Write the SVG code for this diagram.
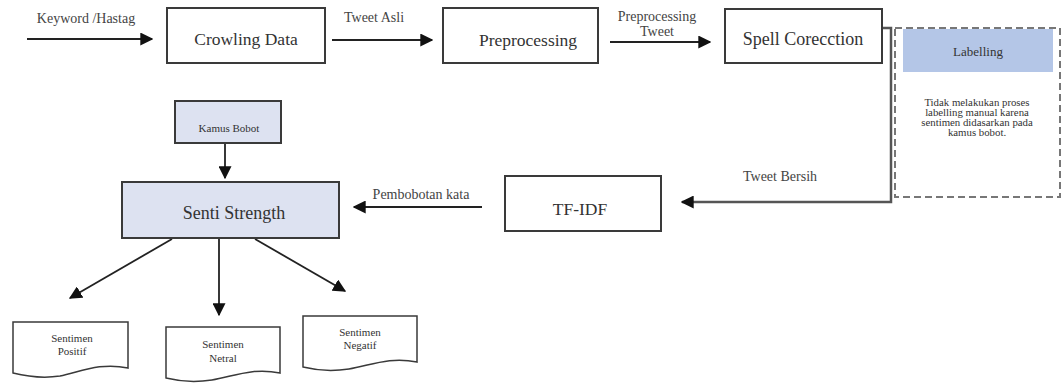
<svg xmlns="http://www.w3.org/2000/svg" width="1062" height="383" viewBox="0 0 1062 383">
<defs>
<marker id="ahb" viewBox="0 0 10 10" refX="9" refY="5" markerWidth="13" markerHeight="13" markerUnits="userSpaceOnUse" orient="auto">
<path d="M0,0 L10,5 L0,10 z" fill="#111"/>
</marker>
</defs>
<style>
.box{fill:#fff;stroke:#3a3a3a;stroke-width:2}
.blue{fill:#dde2f1;stroke:#3a3a3a;stroke-width:2}
.doc{fill:#fff;stroke:#3a3a3a;stroke-width:1.5}
.t{font-family:"Liberation Serif","DejaVu Serif",serif;fill:#333;text-anchor:middle}
.lbl{font-family:"Liberation Serif","DejaVu Serif",serif;fill:#444;font-size:14px;text-anchor:middle}
.ln{stroke:#222;stroke-width:1.8;fill:none}
</style>
<rect width="1062" height="383" fill="#fff"/>
<g id="connectors">
<line class="ln" x1="27" y1="39" x2="152" y2="39" marker-end="url(#ahb)"/>
<text class="lbl" x="86" y="23">Keyword /Hastag</text>
<line class="ln" x1="332" y1="40" x2="432" y2="40" marker-end="url(#ahb)"/>
<text class="lbl" x="374" y="22">Tweet Asli</text>
<line class="ln" x1="610" y1="42" x2="710" y2="42" marker-end="url(#ahb)"/>
<text class="lbl" x="657" y="21">Preprocessing</text>
<text class="lbl" x="657" y="36">Tweet</text>
<path d="M882,28 H891 V202 H682" fill="none" stroke="#555" stroke-width="2.5" marker-end="url(#ahb)"/>
<text class="lbl" x="780" y="181">Tweet Bersih</text>
<line class="ln" x1="482" y1="207" x2="354" y2="207" marker-end="url(#ahb)"/>
<text class="lbl" x="421" y="199">Pembobotan kata</text>
<line class="ln" x1="225" y1="143" x2="225" y2="178" marker-end="url(#ahb)"/>
<line class="ln" x1="172" y1="239" x2="70" y2="298" marker-end="url(#ahb)"/>
<line class="ln" x1="219" y1="239" x2="219" y2="315" marker-end="url(#ahb)"/>
<line class="ln" x1="255" y1="239" x2="345" y2="291" marker-end="url(#ahb)"/>
</g>
<g id="crowling">
<rect class="box" x="167" y="8" width="158" height="55"/>
<text class="t" x="246" y="45" font-size="17.5">Crowling Data</text>
</g>
<g id="preprocessing">
<rect class="box" x="443" y="8" width="155" height="55"/>
<text class="t" x="528" y="46" font-size="17.5">Preprocessing</text>
</g>
<g id="spell">
<rect class="box" x="725" y="9" width="157" height="54"/>
<text class="t" x="803" y="45" font-size="18">Spell Corecction</text>
</g>
<g id="labelling">
<rect x="895" y="28" width="165" height="169" fill="#fff" stroke="#777" stroke-width="2" stroke-dasharray="7,4"/>
<rect x="903" y="29" width="150" height="43" fill="#b4c6e7"/>
<text class="t" x="978" y="56" font-size="13" fill="#222">Labelling</text>
<text class="t" x="977" y="106" font-size="10.8" fill="#222">Tidak melakukan proses</text>
<text class="t" x="977" y="116" font-size="10.8" fill="#222">labelling manual karena</text>
<text class="t" x="977" y="126" font-size="10.8" fill="#222">sentimen didasarkan pada</text>
<text class="t" x="977" y="136" font-size="10.8" fill="#222">kamus bobot.</text>
</g>
<g id="tfidf">
<rect class="box" x="505" y="176" width="156" height="55"/>
<text class="t" x="580" y="215" font-size="17.5">TF-IDF</text>
</g>
<g id="kamus">
<rect class="blue" x="175" y="101" width="106" height="42"/>
<text class="t" x="229" y="132" font-size="11">Kamus Bobot</text>
</g>
<g id="senti">
<rect class="blue" x="122" y="182" width="217" height="56"/>
<text class="t" x="234" y="219" font-size="18">Senti Strength</text>
</g>
<g id="positif">
<path class="doc" d="M13,322 H128 V368 C100,362 80,372 60,376 C40,379 25,376 13,373 Z"/>
<text class="t" x="72" y="342" font-size="11">Sentimen</text>
<text class="t" x="72" y="355" font-size="11">Positif</text>
</g>
<g id="netral">
<path class="doc" d="M166,327 H280 V373 C252,367 232,377 212,380 C192,383 178,381 166,378 Z"/>
<text class="t" x="223" y="348" font-size="11">Sentimen</text>
<text class="t" x="223" y="362" font-size="11">Netral</text>
</g>
<g id="negatif">
<path class="doc" d="M303,316 H417 V362 C389,356 369,366 349,369 C329,372 315,370 303,367 Z"/>
<text class="t" x="360" y="336" font-size="11">Sentimen</text>
<text class="t" x="360" y="349" font-size="11">Negatif</text>
</g>
</svg>
